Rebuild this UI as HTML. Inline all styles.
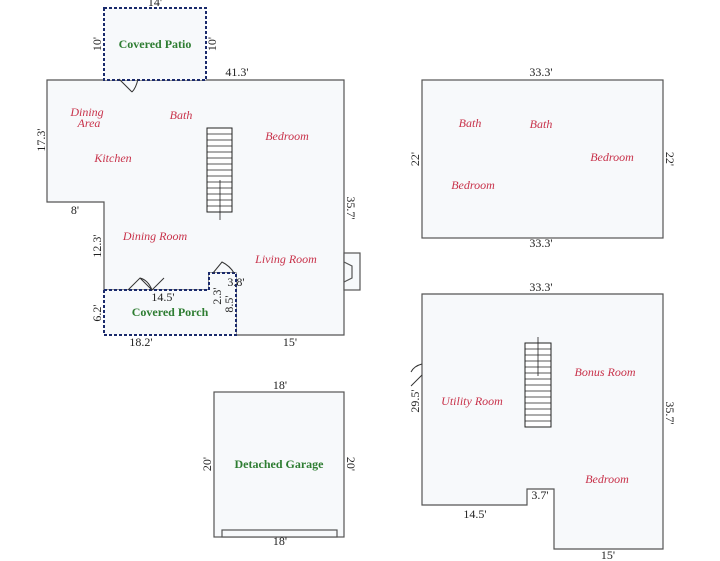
<!DOCTYPE html>
<html><head><style>body{margin:0;background:#fff}svg{display:block}
.d{font-family:"Liberation Serif",serif;font-size:12px;fill:#222}
.r{font-family:"Liberation Serif",serif;font-size:12px;fill:#c8324a;font-style:italic}
.g{font-family:"Liberation Serif",serif;font-size:12px;fill:#2e7d32;font-weight:bold}
</style></head><body>
<svg width="720" height="561" viewBox="0 0 720 561" xmlns="http://www.w3.org/2000/svg">
<g fill="#f7f9fb" stroke="#555" stroke-width="1.2">
<polygon points="47,80 344,80 344,335 236,335 236,273 209,273 209,290 104,290 104,202 47,202"/>
<rect x="344" y="253" width="16" height="37"/>
<polyline points="344,262 352,266 352,278 344,282" fill="none"/>
<rect x="422" y="80" width="241" height="158"/>
<polygon points="422,294 663,294 663,549 554,549 554,489 527,489 527,505 422,505"/>
<rect x="214" y="392" width="130" height="145"/>
<rect x="222" y="530" width="115" height="7"/>
</g>
<g fill="#f7f9fb" stroke="#1a2a6c" stroke-width="2" stroke-dasharray="3,2">
<rect x="104" y="8" width="102" height="72"/>
<polyline points="104,290 104,335 236,335 236,273 209,273 209,290 104,290"/>
</g>
<g stroke="#333" stroke-width="1" fill="none">
<path d="M119,79 L132,92 M138,79 Q136,88 132,92"/>
<path d="M128,290 L140,278 Q148,280 152,290 L164,278 M140,278 L152,290"/>
<path d="M213,273 L222,262 Q230,266 234,273"/>
<path d="M422,375 L411,386 M422,364 Q414,366 411,372"/>
</g>
<g stroke="#222" stroke-width="1" fill="#fff">
<rect x="207" y="128" width="25" height="84"/>
<rect x="525" y="343" width="26" height="84"/>
</g>
<g stroke="#222" stroke-width="0.8">
<path d="M207,134h25M207,140h25M207,146h25M207,152h25M207,158h25M207,164h25M207,170h25M207,176h25M207,182h25M207,188h25M207,194h25M207,200h25M207,206h25"/>
<path d="M220,220V180M525,349h26M525,355h26M525,361h26M525,367h26M525,373h26M525,379h26M525,385h26M525,391h26M525,397h26M525,403h26M525,409h26M525,415h26M525,421h26M538,337V376"/>
</g>
<g class="d">
<text x="155" y="6" text-anchor="middle">14'</text>
<text x="237" y="76" text-anchor="middle">41.3'</text>
<text x="541" y="76" text-anchor="middle">33.3'</text>
<text x="541" y="247" text-anchor="middle">33.3'</text>
<text x="541" y="291" text-anchor="middle">33.3'</text>
<text x="75" y="214" text-anchor="middle">8'</text>
<text x="163" y="301" text-anchor="middle">14.5'</text>
<text x="236" y="286" text-anchor="middle">3.8'</text>
<text x="141" y="346" text-anchor="middle">18.2'</text>
<text x="290" y="346" text-anchor="middle">15'</text>
<text x="280" y="389" text-anchor="middle">18'</text>
<text x="280" y="545" text-anchor="middle">18'</text>
<text x="475" y="518" text-anchor="middle">14.5'</text>
<text x="540" y="499" text-anchor="middle">3.7'</text>
<text x="608" y="559" text-anchor="middle">15'</text>
<g text-anchor="middle">
<text transform="translate(101,44) rotate(-90)">10'</text>
<text transform="translate(216,44) rotate(-90)">10'</text>
<text transform="translate(45,140) rotate(-90)">17.3'</text>
<text transform="translate(101,246) rotate(-90)">12.3'</text>
<text transform="translate(101,313) rotate(-90)">6.2'</text>
<text transform="translate(221,296) rotate(-90)">2.3'</text>
<text transform="translate(233,304) rotate(-90)">8.5'</text>
<text transform="translate(347,208) rotate(90)">35.7'</text>
<text transform="translate(419,159) rotate(-90)">22'</text>
<text transform="translate(666,159) rotate(90)">22'</text>
<text transform="translate(419,401) rotate(-90)">29.5'</text>
<text transform="translate(666,413) rotate(90)">35.7'</text>
<text transform="translate(211,464) rotate(-90)">20'</text>
<text transform="translate(347,464) rotate(90)">20'</text>
</g>
</g>
<g class="r" text-anchor="middle">
<text x="87" y="116">Dining</text><text x="89" y="127">Area</text>
<text x="181" y="119">Bath</text>
<text x="287" y="140">Bedroom</text>
<text x="113" y="162">Kitchen</text>
<text x="155" y="240">Dining Room</text>
<text x="286" y="263">Living Room</text>
<text x="470" y="127">Bath</text>
<text x="541" y="128">Bath</text>
<text x="612" y="161">Bedroom</text>
<text x="473" y="189">Bedroom</text>
<text x="605" y="376">Bonus Room</text>
<text x="472" y="405">Utility Room</text>
<text x="607" y="483">Bedroom</text>
</g>
<g class="g" text-anchor="middle">
<text x="155" y="48">Covered Patio</text>
<text x="170" y="316">Covered Porch</text>
<text x="279" y="468">Detached Garage</text>
</g>
</svg>
</body></html>
